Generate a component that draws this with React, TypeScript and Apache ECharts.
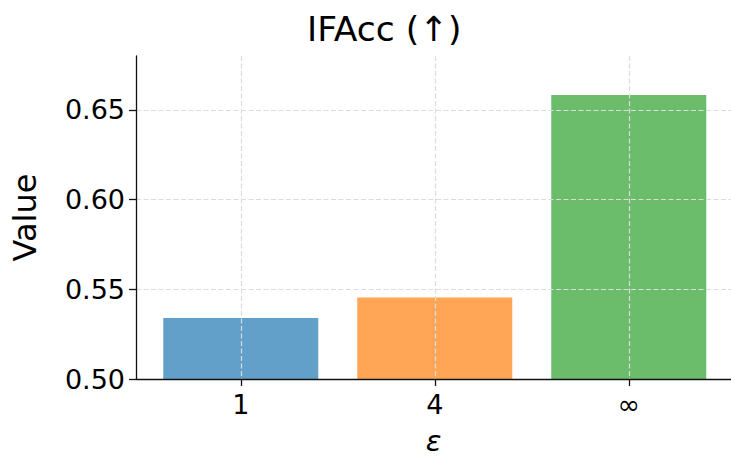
import React, { useEffect, useRef } from "react";
import * as echarts from "echarts";

const categories = ["1", "4", "∞"];
const values = [0.534, 0.5454, 0.6583];
const barColors = ["#62a0ca", "#ffa556", "#6bbc6b"];
const yTicks = [0.5, 0.55, 0.6, 0.65];
const xPositions = [0, 1, 2];

export default function App() {
  const ref = useRef<HTMLDivElement>(null);
  useEffect(() => {
    document.body.style.margin = "0";
    if (!ref.current) return;
    const chart = echarts.init(ref.current, null, { renderer: "svg" });
    const font = "DejaVu Sans";
    const gridLine = { show: true, lineStyle: { color: "#dcdcdc", type: [5, 2.5], width: 1.2 } };
    chart.setOption({
      animation: false,
      textStyle: { fontFamily: font },
      title: {
        text: "IFAcc (↑)",
        left: 302,
        top: 6,
        textStyle: { fontFamily: font, fontSize: 34.5, fontWeight: "normal", color: "#000" },
      },
      grid: { left: 136, right: 0, top: 56, bottom: 80, containLabel: false, outerBoundsMode: "none" },
      xAxis: {
        type: "value",
        min: -0.54,
        max: 2.527,
        z: 5,
        name: "ε",
        nameLocation: "middle",
        nameGap: 47,
        nameTextStyle: { fontFamily: font, fontSize: 29, lineHeight: 29, fontStyle: "italic", color: "#000" },
        axisLine: { show: true, onZero: false, lineStyle: { color: "#111", width: 1.3 } },
        axisTick: { show: true, length: 7, customValues: xPositions, lineStyle: { color: "#111", width: 1.3 } },
        axisLabel: {
          customValues: xPositions,
          fontSize: 27,
          color: "#000",
          margin: 12,
          fontFamily: font,
          formatter: (v: number) => categories[Math.round(v)] ?? "",
        },
        splitLine: gridLine,
      },
      yAxis: {
        type: "value",
        min: 0.5,
        max: 0.68,
        interval: 0.05,
        z: 5,
        name: "Value",
        nameLocation: "middle",
        nameRotate: 90,
        nameGap: 95,
        nameTextStyle: { fontFamily: font, fontSize: 32, color: "#000" },
        axisLine: { show: true, onZero: false, lineStyle: { color: "#111", width: 1.3 } },
        axisTick: { show: true, length: 7, customValues: yTicks, lineStyle: { color: "#111", width: 1.3 } },
        axisLabel: {
          customValues: yTicks,
          fontSize: 27,
          color: "#000",
          margin: 11,
          fontFamily: font,
          formatter: (v: number) => v.toFixed(2),
        },
        splitLine: gridLine,
      },
      series: [
        {
          type: "bar",
          barWidth: 155,
          z: 2,
          data: values.map((v, i) => ({
            value: [xPositions[i], v],
            itemStyle: { color: barColors[i] },
          })),
        },
      ],
    });
    return () => chart.dispose();
  }, []);
  return <div ref={ref} style={{ width: 731, height: 459 }} />;
}
